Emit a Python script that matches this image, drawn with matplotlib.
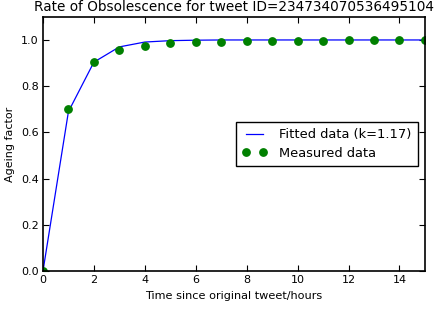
import matplotlib
matplotlib.use("Agg")
import matplotlib.pyplot as plt

# Hours since original tweet
hours = list(range(16))

# Fitted curve (k=1.17) read at each hour
fitted = [0.0, 0.690, 0.904, 0.970, 0.991, 0.997, 0.999, 1.0,
          1.0, 1.0, 1.0, 1.0, 1.0, 1.0, 1.0, 1.0]

# Measured ageing factor
measured = [0.0, 0.700, 0.905, 0.955, 0.975, 0.985, 0.990, 0.990,
            0.995, 0.995, 0.995, 0.995, 1.0, 1.0, 1.0, 1.0]

plt.rcParams["font.family"] = "DejaVu Sans"

fig = plt.figure(figsize=(4.34, 3.12), dpi=100, facecolor="white")
ax = fig.add_axes([0.099, 0.131, 0.880, 0.815])

ax.plot(hours, fitted, color="blue", linewidth=0.9, label="Fitted data (k=1.17)")
ax.plot(hours, measured, "o", color="green", markersize=5.3, markeredgecolor="green",
        label="Measured data")

ax.set_xlim(0, 15)
ax.set_ylim(0, 1.1)
ax.set_xticks(range(0, 15, 2))
ax.set_yticks([0.0, 0.2, 0.4, 0.6, 0.8, 1.0])
ax.tick_params(direction="in", top=True, right=True, labelsize=8, length=4, pad=3)
for s in ax.spines.values():
    s.set_linewidth(1.2)

ax.set_title("Rate of Obsolescence for tweet ID=234734070536495104", fontsize=9.8, pad=4)
ax.set_xlabel("Time since original tweet/hours", fontsize=8.1)
ax.set_ylabel("Ageing factor", fontsize=8)

ax.legend(loc="center right", bbox_to_anchor=(0.982, 0.50), numpoints=2,
          fontsize=9.4, fancybox=False, edgecolor="black", framealpha=1,
          handlelength=1.9, handletextpad=0.9, borderpad=0.5, labelspacing=0.4,
          borderaxespad=0)

fig.savefig("out.png", dpi=100, facecolor="white")
